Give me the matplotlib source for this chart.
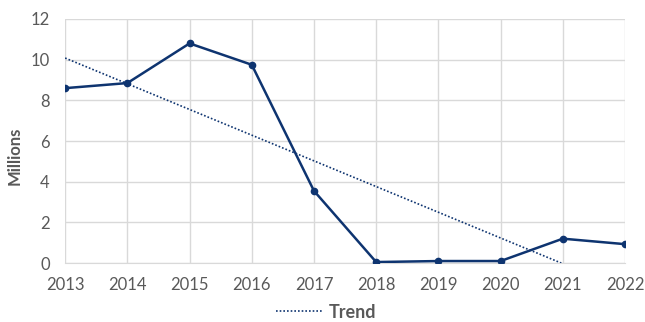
import numpy as np
import matplotlib
matplotlib.use("Agg")
import matplotlib.pyplot as plt
from matplotlib.lines import Line2D

years = [2013, 2014, 2015, 2016, 2017, 2018, 2019, 2020, 2021, 2022]
values = [8.6, 8.85, 10.8, 9.75, 3.55, 0.05, 0.1, 0.1, 1.2, 0.93]
y_ticks = [0, 2, 4, 6, 8, 10, 12]

navy = "#0E3470"
grid_col = "#D9D9D9"
text_col = "#595959"

plt.rcParams["font.family"] = ["Lato", "DejaVu Sans"]

fig = plt.figure(figsize=(6.45, 3.22), dpi=100)
ax = fig.add_axes([0.101, 0.183, 0.868, 0.758])

ax.plot(years, values, color=navy, lw=1.8, marker="o", ms=4.5, zorder=3)

# linear trend, clipped where it crosses zero
x = np.array(years, dtype=float)
coef = np.polyfit(x, values, 1)
x_zero = -coef[1] / coef[0]
xt = np.array([years[0], min(x_zero, years[-1])])
ax.plot(xt, np.polyval(coef, xt), color=navy, lw=1.2, ls=(0, (1, 1.2)), zorder=2)

ax.set_xlim(years[0], years[-1])
ax.set_ylim(0, 12)
ax.set_xticks(years)
ax.set_yticks(y_ticks)
ax.grid(True, color=grid_col, lw=1)
ax.set_axisbelow(True)
for s in ["top", "right", "left"]:
    ax.spines[s].set_visible(False)
ax.spines["bottom"].set_color(grid_col)
ax.tick_params(length=0, colors=text_col, labelsize=12)
ax.tick_params(axis="x", pad=10)
ax.tick_params(axis="y", pad=11)

fig.text(15 / 645, 1 - 156 / 322, "Millions", rotation=90, ha="center", va="center",
         color=text_col, fontsize=12, fontweight="bold")

handle = Line2D([], [], color=navy, lw=1.2, ls=(0, (1, 1.2)))
leg = fig.legend([handle], ["Trend"], loc="center", bbox_to_anchor=(0.506, 0.031),
                 frameon=False, handlelength=2.6, handletextpad=0.3, fontsize=13,
                 borderpad=0, borderaxespad=0)
for t in leg.get_texts():
    t.set_color(text_col)
    t.set_fontweight("bold")

fig.savefig("out.png", dpi=100)
